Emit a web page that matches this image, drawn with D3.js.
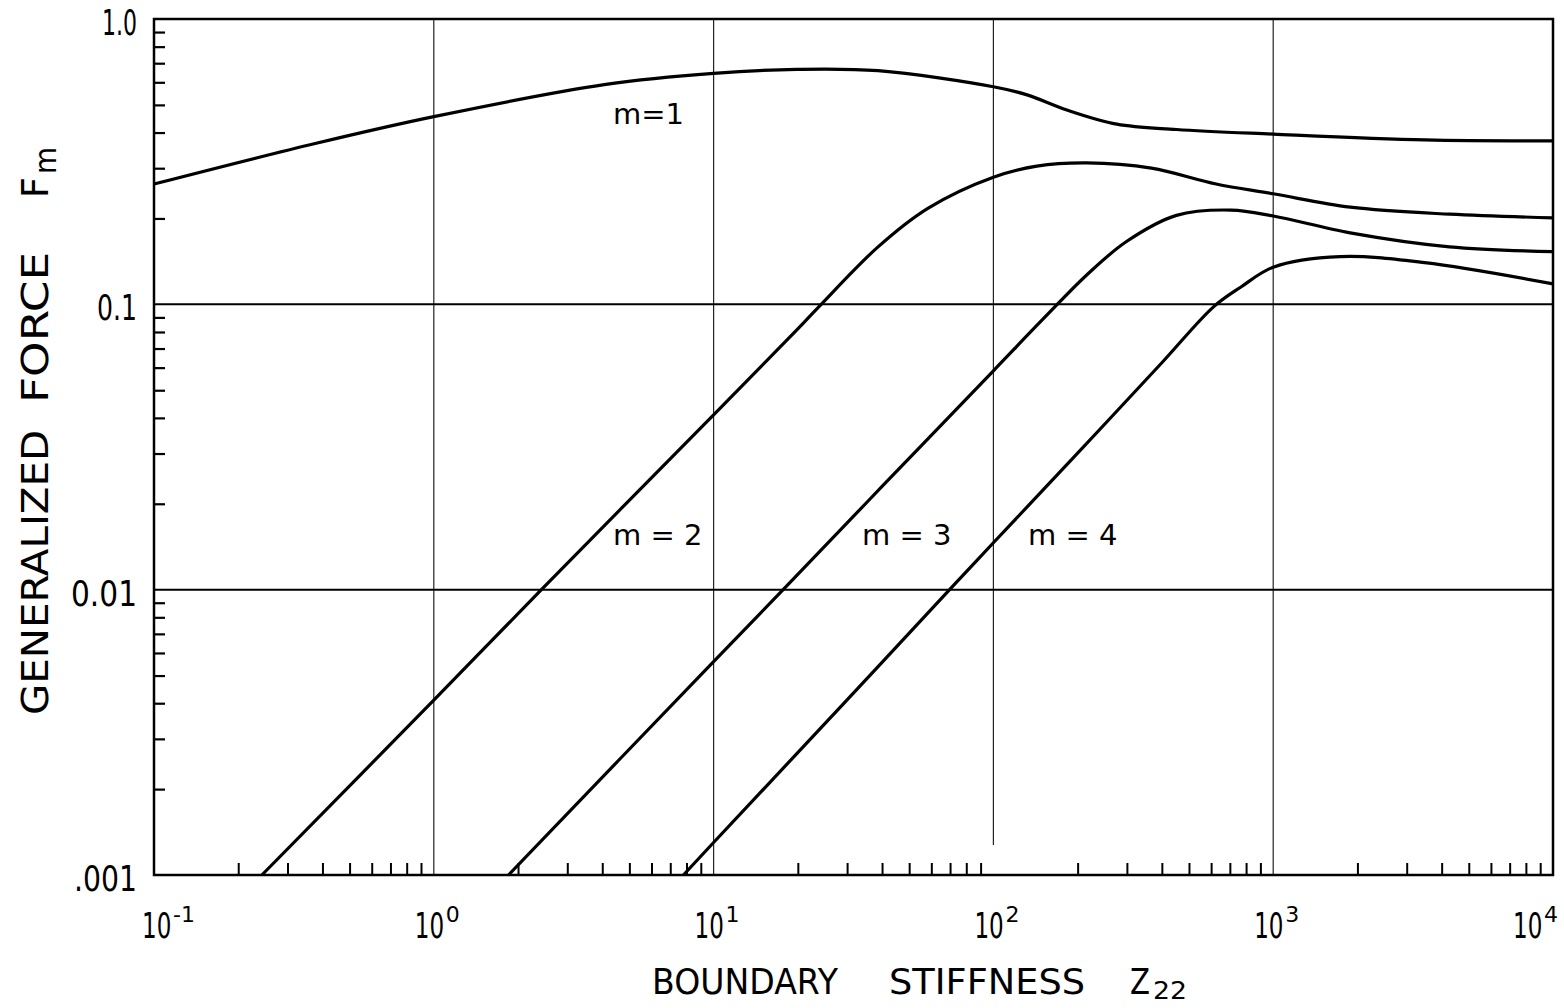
<!DOCTYPE html>
<html>
<head>
<meta charset="utf-8">
<script src="https://cdn.jsdelivr.net/npm/d3@7"></script>
<style>
  body { margin: 0; background: #fff; }
  text { font-family: "DejaVu Sans", sans-serif; fill: #000; }
</style>
</head>
<body>
<div id="chart"></div>
<script>
// data (log-log)
const m1Z = [0.1, 0.38, 1, 4.12, 10, 19.8, 38.7, 100, 132, 183, 276, 451, 1000, 3480, 10000];
const m1F = [0.264, 0.367, 0.455, 0.590, 0.645, 0.666, 0.659, 0.579, 0.542, 0.480, 0.428, 0.410, 0.395, 0.377, 0.374];

const m2Z = [0.243, 1, 2.4, 10, 20, 24, 38.7, 58.3, 100, 143, 216, 367, 625, 1000, 1884, 4266, 10000];
const m2F = [0.001, 0.0041, 0.0099, 0.041, 0.082, 0.099, 0.159, 0.217, 0.279, 0.305, 0.313, 0.300, 0.264, 0.244, 0.219, 0.207, 0.201];

const m3Z = [1.85, 10, 17.9, 40, 100, 150, 216, 299, 451, 707, 1000, 1884, 4266, 10000];
const m3F = [0.001, 0.0056, 0.0101, 0.023, 0.0585, 0.0885, 0.127, 0.166, 0.205, 0.214, 0.204, 0.178, 0.159, 0.153];

const m4Z = [7.8, 10, 30, 73, 100, 200, 400, 612, 767, 1000, 1738, 3480, 10000];
const m4F = [0.001, 0.0013, 0.00411, 0.0105, 0.0146, 0.0301, 0.0624, 0.098, 0.115, 0.135, 0.147, 0.140, 0.118];

const xDecades = [-1, 0, 1, 2, 3, 4];
const yTickLabels = ["1.0", "0.1", "0.01", ".001"];
const yTickValues = [1, 0.1, 0.01, 0.001];

const curveLabels = [
  { text: "m=1", z: 4.37, f: 0.43 },
  { text: "m = 2", z: 4.37, f: 0.0143 },
  { text: "m = 3", z: 33.9, f: 0.0143 },
  { text: "m = 4", z: 133, f: 0.0143 }
];

const svgWidth = 1564;
const svgHeight = 1008;
const margin = { top: 19, right: 11, bottom: 133, left: 154 };
const width = svgWidth - margin.left - margin.right;
const height = svgHeight - margin.top - margin.bottom;

const svg = d3.select("#chart")
  .append("svg")
  .attr("width", svgWidth)
  .attr("height", svgHeight);

const chartGroup = svg.append("g")
  .attr("transform", `translate(${margin.left}, ${margin.top})`);

const x = d3.scaleLog().domain([0.1, 10000]).range([0, width]);
const y = d3.scaleLog().domain([0.001, 1]).range([height, 0]);

// minor tick values
const xMinor = [];
for (let d = -1; d < 4; d++) {
  for (let k = 2; k <= 9; k++) xMinor.push(k * Math.pow(10, d));
}
const yMinor = [];
for (let d = -3; d < 0; d++) {
  for (let k = 2; k <= 9; k++) yMinor.push(k * Math.pow(10, d));
}

// vertical grid lines
chartGroup.selectAll("line.vgrid")
  .data([1, 10, 100, 1000])
  .enter()
  .append("line")
  .attr("class", "vgrid")
  .attr("x1", d => x(d))
  .attr("x2", d => x(d))
  .attr("y1", 0)
  .attr("y2", d => d === 100 ? height - 30 : height)
  .attr("stroke", "#222")
  .attr("stroke-width", 1.2);

// horizontal grid lines
chartGroup.selectAll("line.hgrid")
  .data([0.1, 0.01])
  .enter()
  .append("line")
  .attr("class", "hgrid")
  .attr("x1", 0)
  .attr("x2", width)
  .attr("y1", d => y(d))
  .attr("y2", d => y(d))
  .attr("stroke", "#000")
  .attr("stroke-width", 2);

// minor ticks via axes
const bottomAxis = d3.axisBottom(x)
  .tickValues(xMinor)
  .tickSizeInner(-12)
  .tickSizeOuter(0)
  .tickFormat("");
const xAxis = chartGroup.append("g")
  .attr("transform", `translate(0, ${height})`)
  .call(bottomAxis);
xAxis.select(".domain").remove();
xAxis.selectAll("line").attr("stroke-width", 2);

const leftAxis = d3.axisLeft(y)
  .tickValues(yMinor)
  .tickSizeInner(-11)
  .tickSizeOuter(0)
  .tickFormat("");
const yAxis = chartGroup.append("g").call(leftAxis);
yAxis.select(".domain").remove();
yAxis.selectAll("line").attr("stroke-width", 2.2);

// frame
chartGroup.append("rect")
  .attr("x", 0)
  .attr("y", 0)
  .attr("width", width)
  .attr("height", height)
  .attr("fill", "none")
  .attr("stroke", "#000")
  .attr("stroke-width", 2.5);

// curves
const line = d3.line()
  .x(d => x(d[0]))
  .y(d => y(d[1]))
  .curve(d3.curveCatmullRom.alpha(0.5));

const series = [
  d3.zip(m1Z, m1F),
  d3.zip(m2Z, m2F),
  d3.zip(m3Z, m3F),
  d3.zip(m4Z, m4F)
];

chartGroup.selectAll("path.curve")
  .data(series)
  .enter()
  .append("path")
  .attr("class", "curve")
  .attr("d", line)
  .attr("fill", "none")
  .attr("stroke", "#000")
  .attr("stroke-width", 3.2)
  .attr("stroke-linejoin", "round");

// curve labels
chartGroup.selectAll("text.mlabel")
  .data(curveLabels)
  .enter()
  .append("text")
  .attr("class", "mlabel")
  .attr("x", d => x(d.z))
  .attr("y", d => y(d.f))
  .attr("font-size", "29px")
  .text(d => d.text);

// y tick labels (narrow lettering -> textLength)
const yLabLen = [35, 40, 66, 63];
chartGroup.selectAll("text.ylab")
  .data(yTickValues)
  .enter()
  .append("text")
  .attr("class", "ylab")
  .attr("x", -17)
  .attr("y", d => y(d))
  .attr("dy", 16)
  .attr("text-anchor", "end")
  .attr("font-size", "36px")
  .attr("textLength", (d, i) => yLabLen[i])
  .attr("lengthAdjust", "spacingAndGlyphs")
  .text((d, i) => yTickLabels[i]);

// x tick labels: condensed "10" plus raised exponent
const xOff = d => d === 4 ? -40 : d === -1 ? -12 : -19;
const xLabels = chartGroup.selectAll("g.xlab")
  .data(xDecades)
  .enter()
  .append("g")
  .attr("class", "xlab")
  .attr("transform", d => `translate(${x(Math.pow(10, d)) + xOff(d)}, ${height + 63})`);
xLabels.append("text")
  .attr("transform", "scale(0.64, 1)")
  .attr("font-size", "36px")
  .text("10");
xLabels.append("text")
  .attr("x", 31)
  .attr("y", -16)
  .attr("font-size", "22px")
  .text(d => d);

// x axis title, word by word
const xTitle = [
  { t: "BOUNDARY", x: 652, len: 186, size: 35, dy: 0 },
  { t: "STIFFNESS", x: 889, len: 196, size: 35, dy: 0 },
  { t: "Z", x: 1130, len: 20, size: 35, dy: 0 },
  { t: "22", x: 1153, len: 34, size: 25, dy: 5 }
];
chartGroup.selectAll("text.xtitle")
  .data(xTitle)
  .enter()
  .append("text")
  .attr("class", "xtitle")
  .attr("x", d => d.x - margin.left)
  .attr("y", d => height + 119 + d.dy)
  .attr("font-size", d => d.size + "px")
  .attr("textLength", d => d.len)
  .attr("lengthAdjust", "spacingAndGlyphs")
  .text(d => d.t);

// y axis title, word by word (rotated, reads bottom to top)
const yTitle = [
  { t: "GENERALIZED", y: 715, len: 285, size: 37, dx: 0 },
  { t: "FORCE", y: 403, len: 151, size: 37, dx: 0 },
  { t: "F", y: 198, len: 21, size: 37, dx: 0 },
  { t: "m", y: 174, len: 27, size: 30, dx: 8 }
];
chartGroup.selectAll("text.ytitle")
  .data(yTitle)
  .enter()
  .append("text")
  .attr("class", "ytitle")
  .attr("transform", d => `translate(${-106 + d.dx}, ${d.y - margin.top}) rotate(-90)`)
  .attr("font-size", d => d.size + "px")
  .attr("textLength", d => d.len)
  .attr("lengthAdjust", "spacingAndGlyphs")
  .text(d => d.t);
</script>
</body>
</html>
